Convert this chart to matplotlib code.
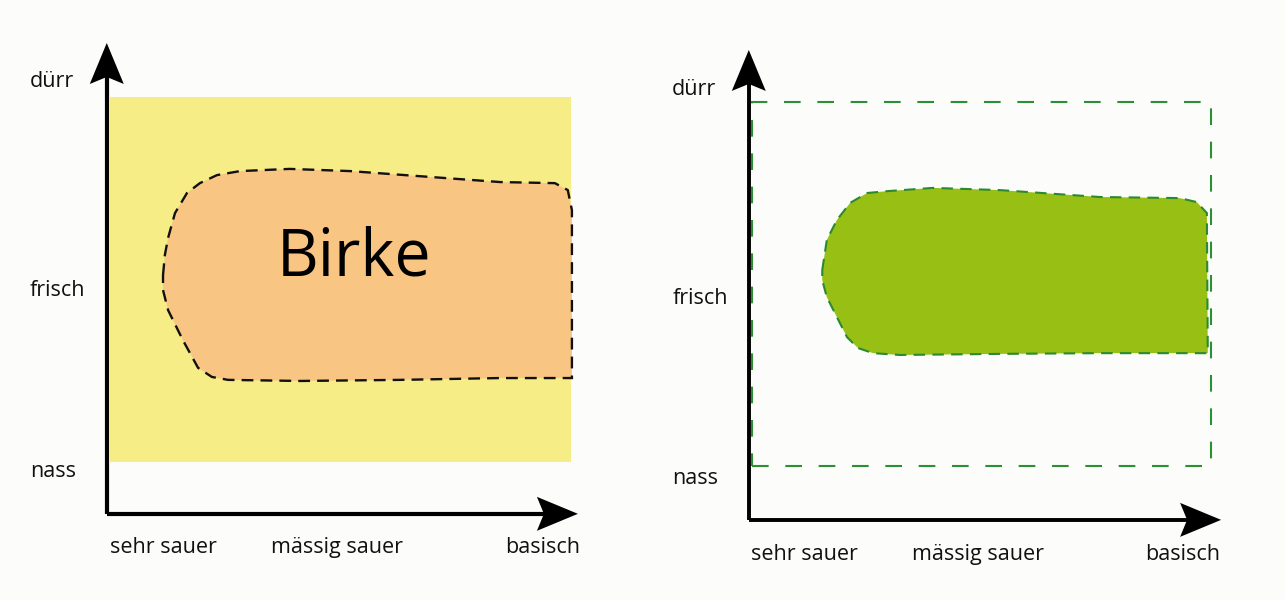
import matplotlib.pyplot as plt
from matplotlib.patches import Polygon, Rectangle

# ecogram axes: x = soil reaction (0 = frame left, 1 = frame right),
# y = moisture (0 = frame bottom "nass", 1 = frame top "dürr")
x_labels = ["sehr sauer", "mässig sauer", "basisch"]
x_label_pos = [0.115, 0.492, 0.938]
y_labels = ["dürr", "frisch", "nass"]
y_label_pos = [1.043, 0.469, -0.025]

# outline of the Birke range, left panel
birke_x = [0.115, 0.119, 0.126, 0.141, 0.167, 0.195, 0.232, 0.282, 0.390, 0.521,
           0.694, 0.846, 0.965, 0.993, 1.002, 1.002, 0.846, 0.629, 0.412, 0.256,
           0.221, 0.191, 0.158, 0.126, 0.115]
birke_y = [0.512, 0.567, 0.614, 0.682, 0.737, 0.764, 0.786, 0.797, 0.803, 0.797,
           0.781, 0.767, 0.764, 0.745, 0.690, 0.230, 0.230, 0.225, 0.222, 0.225,
           0.233, 0.258, 0.334, 0.416, 0.471]

# outline of the green range, right panel
green_x = [0.153, 0.163, 0.185, 0.214, 0.251, 0.294, 0.394, 0.540, 0.758, 0.932,
           0.969, 0.991, 0.993, 0.758, 0.540, 0.322, 0.264, 0.231, 0.207, 0.185,
           0.163, 0.153]
green_y = [0.538, 0.621, 0.676, 0.723, 0.750, 0.755, 0.764, 0.758, 0.739, 0.736,
           0.725, 0.695, 0.310, 0.310, 0.308, 0.305, 0.310, 0.324, 0.354, 0.409,
           0.464, 0.511]

BG = "#fcfcfa"
FONT = "Open Sans"

fig = plt.figure(figsize=(12.85, 6), dpi=100, facecolor=BG)
W, H = 1285, 600


def make_panel(px0, px1, frame):
    """frame = (left, right, top, bottom) of the unit square in pixels"""
    fl, fr, ft, fb = frame
    sx = fr - fl
    sy = fb - ft
    ax = fig.add_axes([px0 / W, 0, (px1 - px0) / W, 1])
    ax.set_xlim((px0 - fl) / sx, (px1 - fl) / sx)
    ax.set_ylim((fb - H) / sy, fb / sy)
    ax.axis("off")
    ax.patch.set_alpha(0)
    return ax, sx, sy


def arrow(ax, x0, y0, x1, y1, sx, sy, lw):
    # shaft + notched head (head sizes in pixels)
    hl, hw, notch = 41, 17, 7
    if x1 != x0:  # horizontal
        ax.plot([x0, x1 - (hl - notch) / sx], [y0, y0], color="black", lw=lw,
                solid_capstyle="butt", zorder=5)
        pts = [(x1, y1), (x1 - hl / sx, y1 + hw / sy), (x1 - (hl - notch) / sx, y1),
               (x1 - hl / sx, y1 - hw / sy)]
    else:
        ax.plot([x0, x0], [y0, y1 - (hl - notch) / sy], color="black", lw=lw,
                solid_capstyle="butt", zorder=5)
        pts = [(x1, y1), (x1 - hw / sx, y1 - hl / sy), (x1, y1 - (hl - notch) / sy),
               (x1 + hw / sx, y1 - hl / sy)]
    ax.add_patch(Polygon(pts, closed=True, color="black", zorder=6, lw=0))


def labels(ax, dy=0.0):
    for t, y in zip(y_labels, y_label_pos):
        ax.text(-0.174, y + dy, t, ha="left", va="center", fontsize=15.5,
                family=FONT, color="#111111")
    for t, x in zip(x_labels, x_label_pos):
        ax.text(x, -0.235 + dy, t, ha="center", va="center", fontsize=15.5,
                family=FONT, color="#111111")


# ---- left panel ----
ax1, sx1, sy1 = make_panel(0, 640, (110, 571, 97, 462))
ax1.add_patch(Rectangle((0, 0), 1, 1, color="#f7ed86", lw=0, zorder=1))
ax1.add_patch(Polygon(list(zip(birke_x, birke_y)), closed=True, facecolor="#f9c582",
                      edgecolor="#111111", lw=1.7, ls=(0, (5, 3)), zorder=2))
ax1.text(0.53, 0.51, "Birke", ha="center", va="baseline", fontsize=46.5,
         family=FONT, color="black", zorder=3)
arrow(ax1, -0.007, -0.142, -0.007, 1.148, sx1, sy1, 3)
arrow(ax1, -0.007, -0.142, 1.015, -0.142, sx1, sy1, 3)
labels(ax1)

# ---- right panel ----
ax2, sx2, sy2 = make_panel(642, 1285, (752, 1211, 102, 466))
ax2.add_patch(Rectangle((0, 0), 1, 1, fill=False, edgecolor="#2b8f33", lw=1.5,
                        ls=(0, (8, 8)), zorder=1))
ax2.add_patch(Polygon(list(zip(green_x, green_y)), closed=True, facecolor="#98bf14",
                      edgecolor="#2b8a30", lw=1.5, ls=(0, (5.5, 3.5)), zorder=2))
arrow(ax2, -0.007, -0.148, -0.007, 1.143, sx2, sy2, 2.8)
arrow(ax2, -0.007, -0.148, 1.022, -0.148, sx2, sy2, 2.8)
labels(ax2, dy=-0.008)

fig.savefig("out.png", dpi=100, facecolor=BG)
